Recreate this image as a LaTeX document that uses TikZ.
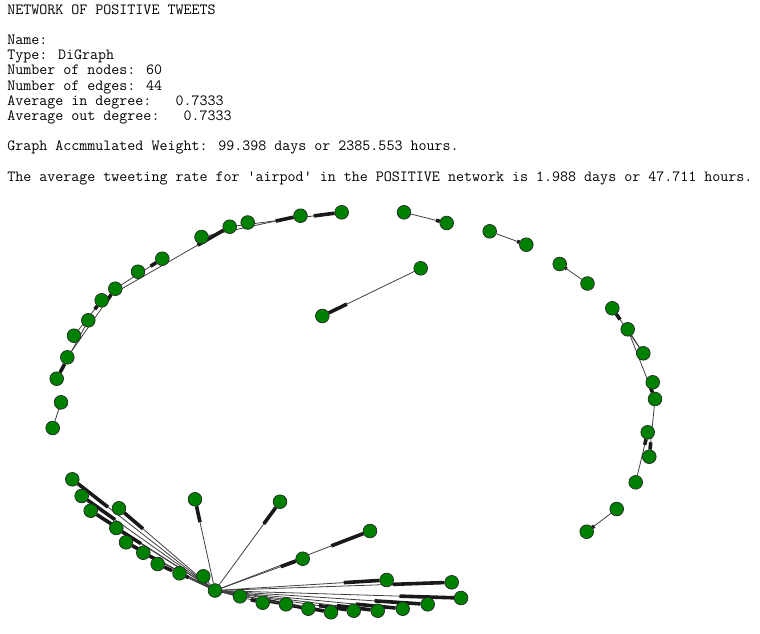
\documentclass[tikz,border=0pt]{standalone}
\usepackage{fontspec}
\usepackage{xcolor}
\usetikzlibrary{calc, backgrounds}
\definecolor{nodegreen}{RGB}{0,128,0}

\begin{document}
\begin{tikzpicture}[
    x=0.75pt, y=-0.75pt,
    vertex/.style={circle, draw=black!85, line width=0.5pt, fill=nodegreen, inner sep=0pt, minimum size=10.3pt},
    infotext/.style={anchor=base west, inner sep=0pt, font=\ttfamily\fontsize{11.67}{13}\selectfont},
    edgeline/.style={draw=black!75, line width=0.6pt},
    edgehead/.style={draw=black!90, line width=2.7pt}
]
\useasboundingbox (0,0) rectangle (760,633);

% Header text
\node[infotext] (title) at (7,14) {NETWORK OF POSITIVE TWEETS};
\node[infotext] (gname) at (7,44.4) {Name:};
\node[infotext] (gtype) at (7,59.6) {Type: DiGraph};
\node[infotext] (gnodes) at (7,74.8) {Number of nodes: 60};
\node[infotext] (gedges) at (7,90) {Number of edges: 44};
\node[infotext] (gindeg) at (7,105.2) {Average in degree:\ \ \ 0.7333};
\node[infotext] (goutdeg) at (7,120.4) {Average out degree:\ \ \ 0.7333};
\node[infotext] (gweight) at (7,150.8) {Graph Accmmulated Weight: 99.398 days or 2385.553 hours.};
\node[infotext] (grate) at (7,181.2) {The average tweeting rate for 'airpod' in the POSITIVE network is 1.988 days or 47.711 hours.};

% Top arc
\node[vertex] (a1) at (341.7,212.3) {};
\node[vertex] (a2) at (300.5,215.7) {};
\node[vertex] (a3) at (247.7,222.5) {};
\node[vertex] (a4) at (229.7,226.7) {};
\node[vertex] (a5) at (201.5,237) {};
\node[vertex] (a6) at (162.3,258.7) {};
\node[vertex] (a7) at (138,271.7) {};
\node[vertex] (a8) at (115.3,288.7) {};
\node[vertex] (a9) at (101.7,300.3) {};
\node[vertex] (a10) at (88.3,320.3) {};
\node[vertex] (a11) at (74,335.7) {};
\node[vertex] (a12) at (67.3,357.3) {};
\node[vertex] (a13) at (56.7,378.7) {};
\node[vertex] (a14) at (61,402.3) {};
\node[vertex] (a15) at (52.7,428) {};

% Pairs in the middle and top right
\node[vertex] (c1) at (322.3,316) {};
\node[vertex] (c2) at (420.7,268.3) {};
\node[vertex] (p1) at (404,212.3) {};
\node[vertex] (p2) at (446.7,223) {};
\node[vertex] (p3) at (489.7,231.3) {};
\node[vertex] (p4) at (526.3,244.7) {};
\node[vertex] (p5) at (559.7,264) {};
\node[vertex] (p6) at (587.5,283.5) {};

% Right arc
\node[vertex] (q1) at (612.3,308.3) {};
\node[vertex] (q2) at (627.7,329.3) {};
\node[vertex] (q3) at (643.3,353.3) {};
\node[vertex] (q4) at (652.7,382.3) {};
\node[vertex] (q5) at (655,399) {};
\node[vertex] (q6) at (647.7,432.3) {};
\node[vertex] (q7) at (649.3,456.7) {};
\node[vertex] (q8) at (635.7,482.3) {};
\node[vertex] (q9) at (616.7,509) {};
\node[vertex] (q10) at (586.7,531.7) {};

% Bottom star
\node[vertex] (l1) at (72.3,479.3) {};
\node[vertex] (l2) at (81.7,496) {};
\node[vertex] (l3) at (90.7,510.7) {};
\node[vertex] (l4) at (119,508.3) {};
\node[vertex] (l5) at (116.3,528) {};
\node[vertex] (l6) at (126,542.3) {};
\node[vertex] (l7) at (143.3,552.7) {};
\node[vertex] (l8) at (157.7,564) {};
\node[vertex] (l9) at (179.5,573.3) {};
\node[vertex] (l10) at (203.3,576.3) {};
\node[vertex] (u1) at (195,499.3) {};
\node[vertex] (u2) at (280,501.7) {};
\node[vertex] (u3) at (370,531) {};
\node[vertex] (m1) at (302.7,558.7) {};
\node[vertex] (r1) at (386.7,580) {};
\node[vertex] (r2) at (451.7,582.3) {};
\node[vertex] (r3) at (461,598) {};
\node[vertex] (r4) at (427.7,604.3) {};
\node[vertex] (b1) at (240,596.3) {};
\node[vertex] (b2) at (262.7,602.7) {};
\node[vertex] (b3) at (286,604.3) {};
\node[vertex] (b4) at (308.3,608.7) {};
\node[vertex] (b5) at (331,612.3) {};
\node[vertex] (b6) at (353.7,610.7) {};
\node[vertex] (b7) at (377.7,610.7) {};
\node[vertex] (b8) at (402.7,608.7) {};
\node[vertex] (hub) at (215,590.5) {};

% Edges: thin line, thick last quarter at the target
\begin{scope}[on background layer]
\foreach \s/\t in {a4/a1, a5/a2, a9/a4, a12/a8, a10/a13, a8/a6, a11/a9, a15/a14,
                   c2/c1, p1/p2, p3/p4, p6/p5,
                   q3/q1, q2/q3, q2/q5, q5/q7, q8/q6, q9/q10,
                   hub/l1, hub/l2, hub/l3, hub/l4, hub/l5, hub/l6, hub/l7, hub/l8, hub/l9, hub/l10,
                   hub/u1, hub/u2, hub/u3, hub/m1, hub/r1, hub/r2, hub/r3, hub/r4,
                   hub/b1, hub/b2, hub/b3, hub/b4, hub/b5, hub/b6, hub/b7, hub/b8} {
    \draw[edgeline] (\s) -- (\t);
    \draw[edgehead] ($(\s)!0.75!(\t)$) -- (\t);
}
\end{scope}

\end{tikzpicture}
\end{document}
